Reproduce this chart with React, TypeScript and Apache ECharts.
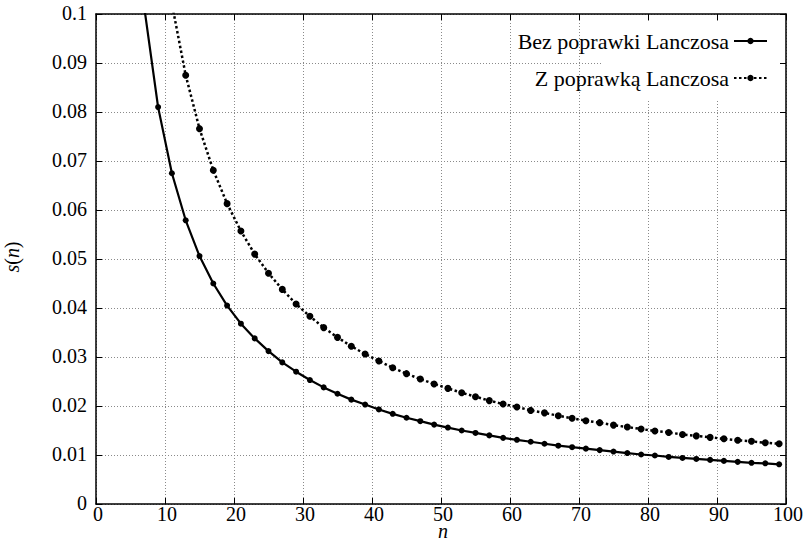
import React, { useEffect, useRef } from 'react';
import * as echarts from 'echarts';

const nValues = [
  5, 7, 9, 11, 13, 15, 17, 19, 21, 23, 25, 27, 29, 31, 33, 35, 37, 39, 41, 43, 45, 47, 49, 51,
  53, 55, 57, 59, 61, 63, 65, 67, 69, 71, 73, 75, 77, 79, 81, 83, 85, 87, 89, 91, 93, 95, 97, 99,
];

const withoutCorrection = [
  0.135, 0.1013, 0.081, 0.0675, 0.0579, 0.0506, 0.045, 0.0405, 0.0368, 0.0338, 0.0312, 0.0289,
  0.027, 0.0253, 0.0238, 0.0225, 0.0213, 0.0203, 0.0193, 0.0184, 0.0176, 0.0169, 0.0162, 0.0156,
  0.015, 0.0145, 0.014, 0.0135, 0.0131, 0.0127, 0.0123, 0.0119, 0.0116, 0.0113, 0.011, 0.0107,
  0.0104, 0.0101, 0.0099, 0.0096, 0.0094, 0.0092, 0.009, 0.0088, 0.0086, 0.0084, 0.0083, 0.0081,
];

const withCorrection = [
  0.2042, 0.1531, 0.1225, 0.1021, 0.0875, 0.0766, 0.0681, 0.0613, 0.0557, 0.051, 0.0471, 0.0438,
  0.0408, 0.0383, 0.036, 0.034, 0.0322, 0.0306, 0.0292, 0.0278, 0.0266, 0.0255, 0.0245, 0.0236,
  0.0227, 0.0219, 0.0211, 0.0204, 0.0198, 0.0191, 0.0186, 0.018, 0.0175, 0.017, 0.0166, 0.0161,
  0.0157, 0.0153, 0.0149, 0.0146, 0.0142, 0.0139, 0.0136, 0.0133, 0.013, 0.0128, 0.0125, 0.0123,
];

const xTicks = [0, 10, 20, 30, 40, 50, 60, 70, 80, 90, 100];
const yTicks = [0, 0.01, 0.02, 0.03, 0.04, 0.05, 0.06, 0.07, 0.08, 0.09, 0.1];
const yTickLabels = ['0', '0.01', '0.02', '0.03', '0.04', '0.05', '0.06', '0.07', '0.08', '0.09', '0.1'];

const seriesNames = ['Bez poprawki Lanczosa', 'Z poprawką Lanczosa'];

const FONT = 'Liberation Serif';
const FONT_CSS = '20px Liberation Serif';
const FONT_CSS_IT = 'italic 20px Liberation Serif';

export default function App() {
  const ref = useRef<HTMLDivElement>(null);

  useEffect(() => {
    if (!ref.current) return;
    const chart = echarts.init(ref.current, null, { renderer: 'svg' });

    const frameLine = () => ({ show: true, onZero: false, lineStyle: { color: '#000', width: 1.5 } });
    const tick = () => ({ show: true, inside: true, length: 6, lineStyle: { color: '#000', width: 1 } });
    const gridLine = () => ({ show: true, lineStyle: { color: '#8a8a8a', width: 1, type: [1, 2] } });

    const maskRect = {
      type: 'rect', silent: true, z: 1,
      shape: { x: 601, y: 21, width: 178, height: 79 },
      style: { fill: '#fff' },
    };

    const option: any = {
      animation: false,
      backgroundColor: '#fff',
      textStyle: { fontFamily: FONT },
      grid: { left: 96, top: 14, width: 690, height: 490, outerBoundsMode: 'none', containLabel: false },
      xAxis: [
        {
          type: 'value', min: 0, max: 100, interval: 10, position: 'bottom',
          axisLine: frameLine(), axisTick: tick(), axisLabel: { show: false }, splitLine: gridLine(),
        },
        {
          type: 'value', min: 0, max: 100, interval: 10, position: 'top',
          axisLine: frameLine(), axisTick: tick(), axisLabel: { show: false }, splitLine: { show: false },
        },
      ],
      yAxis: [
        {
          type: 'value', min: 0, max: 0.1, interval: 0.01, position: 'left',
          axisLine: frameLine(), axisTick: tick(), axisLabel: { show: false }, splitLine: gridLine(),
        },
        {
          type: 'value', min: 0, max: 0.1, interval: 0.01, position: 'right',
          axisLine: frameLine(), axisTick: tick(), axisLabel: { show: false }, splitLine: { show: false },
        },
      ],
      graphic: [maskRect],
      legend: {
        orient: 'vertical', right: 33, top: 25, align: 'right',
        itemWidth: 33, itemHeight: 8, itemGap: 15,
        textStyle: { fontFamily: FONT, fontSize: 22, color: '#000' },
        data: seriesNames,
      },
      series: [
        {
          name: seriesNames[0], type: 'line',
          data: nValues.map((n, i) => [n, withoutCorrection[i]]),
          symbol: 'circle', symbolSize: 6, showSymbol: true, showAllSymbol: true, clip: true,
          lineStyle: { color: '#000', width: 2.2 }, itemStyle: { color: '#000' },
          emphasis: { disabled: true }, z: 3,
        },
        {
          name: seriesNames[1], type: 'line',
          data: nValues.map((n, i) => [n, withCorrection[i]]),
          symbol: 'circle', symbolSize: 7, showSymbol: true, showAllSymbol: true, clip: true,
          lineStyle: { color: '#000', width: 2.5, type: [2.5, 2.5] }, itemStyle: { color: '#000' },
          emphasis: { disabled: true }, z: 3,
        },
      ],
    };

    chart.setOption(option);

    // Tick labels and axis titles placed through the chart's own scales.
    const labels: any[] = [];
    xTicks.forEach((v) => {
      const p = chart.convertToPixel({ gridIndex: 0 }, [v, 0]) as number[];
      labels.push({
        type: 'text', x: p[0] + 2, y: p[1] + 10, z: 5, silent: true,
        style: {
          text: String(v), font: FONT_CSS, fill: '#000',
          align: 'center', verticalAlign: 'middle', textAlign: 'center', textVerticalAlign: 'middle',
        },
      });
    });
    yTicks.forEach((v, i) => {
      const p = chart.convertToPixel({ gridIndex: 0 }, [0, v]) as number[];
      labels.push({
        type: 'text', x: p[0] - 9, y: p[1] - 1, z: 5, silent: true,
        style: {
          text: yTickLabels[i], font: FONT_CSS, fill: '#000',
          align: 'right', verticalAlign: 'middle', textAlign: 'right', textVerticalAlign: 'middle',
        },
      });
    });
    const bottomMid = chart.convertToPixel({ gridIndex: 0 }, [50, 0]) as number[];
    labels.push({
      type: 'text', x: bottomMid[0] + 2, y: bottomMid[1] + 27, z: 5, silent: true,
      style: {
        text: 'n', font: FONT_CSS_IT, fill: '#000',
        align: 'center', verticalAlign: 'middle', textAlign: 'center', textVerticalAlign: 'middle',
      },
    });
    const leftMid = chart.convertToPixel({ gridIndex: 0 }, [0, 0.05]) as number[];
    labels.push({
      type: 'text', x: leftMid[0] - 84, y: leftMid[1] - 2, rotation: Math.PI / 2, z: 5, silent: true,
      style: {
        text: '{i|s}{r|(}{i|n}{r|)}', fill: '#000',
        align: 'center', verticalAlign: 'middle', textAlign: 'center', textVerticalAlign: 'middle',
        rich: {
          i: { fontFamily: FONT, fontSize: 20, fontStyle: 'italic', fill: '#000' },
          r: { fontFamily: FONT, fontSize: 20, fill: '#000' },
        },
      },
    });

    chart.setOption({ graphic: [maskRect, ...labels] });

    return () => chart.dispose();
  }, []);

  return (
    <div
      ref={ref}
      style={{ position: 'fixed', left: 0, top: 0, width: 806, height: 539, background: '#fff' }}
    />
  );
}
